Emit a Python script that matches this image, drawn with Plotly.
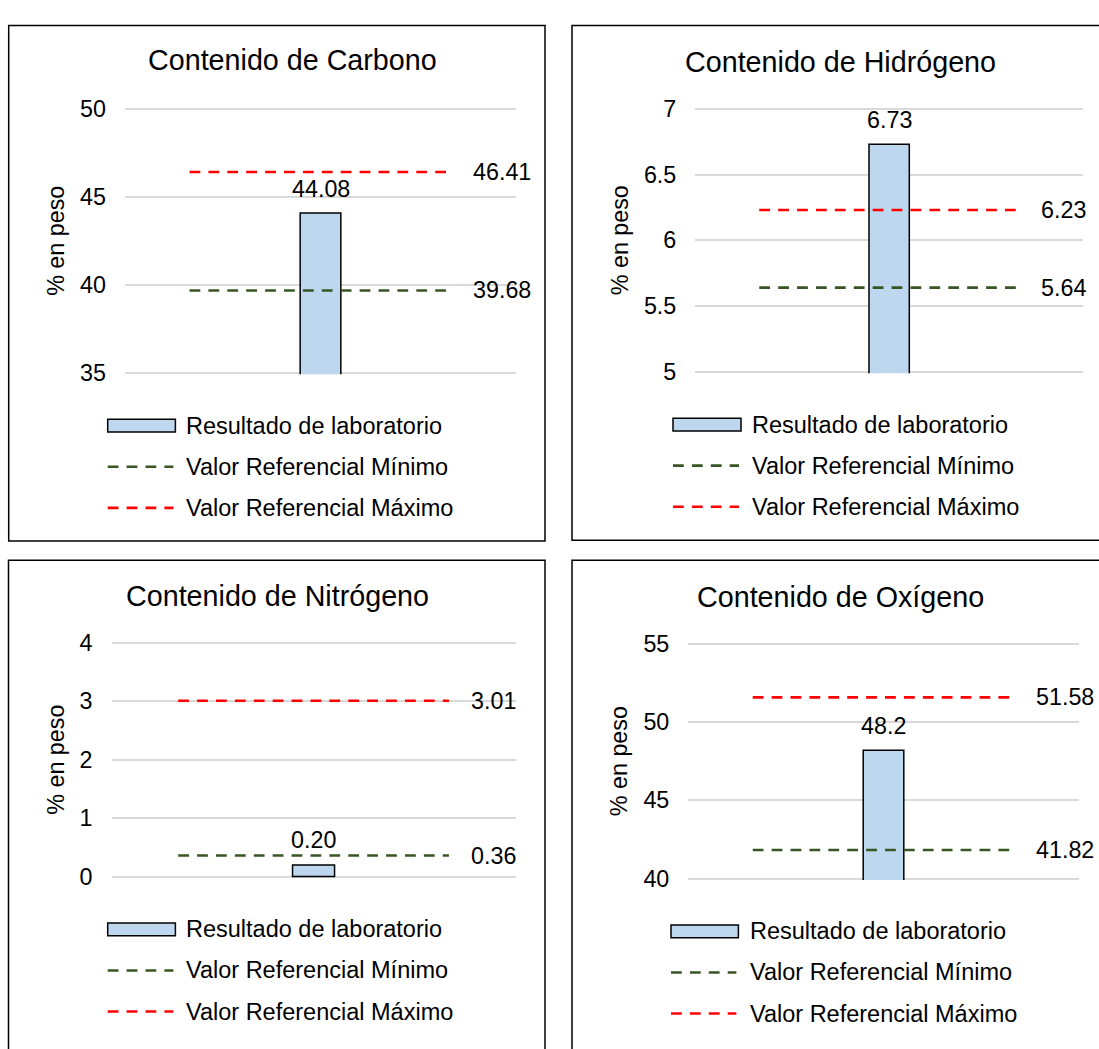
import plotly.graph_objects as go

W, H = 1099, 1049

# ---------------- data ----------------
titles = ["Contenido de Carbono", "Contenido de Hidrógeno",
          "Contenido de Nitrógeno", "Contenido de Oxígeno"]
lab_values = [44.08, 6.73, 0.20, 48.2]
lab_decimals = [2, 2, 2, 1]
ref_min = [39.68, 5.64, 0.36, 41.82]
ref_max = [46.41, 6.23, 3.01, 51.58]
y_min = [35, 5, 0, 40]
y_max = [50, 7, 4, 55]
y_step = [5, 0.5, 1, 5]
y_title = "% en peso"
series_names = ["Resultado de laboratorio", "Valor Referencial Mínimo",
                "Valor Referencial Máximo"]

# ---------------- styles / layout geometry (pixels) ----------------
FONT = "Arial, 'Liberation Sans', sans-serif"
BAR_FILL = "#BDD7EE"
GREEN = "#375623"
RED = "#FF0000"
GRID = "#D9D9D9"
DASH = "10.8px,8.1px"
LW = 2.6
FS = 23.3
FS_TITLE = 28.7

plot_px = [(125, 516, 100, 370), (695.3, 1083, 100, 368.8),
           (111.5, 515.6, 646, 885), (688.3, 1078.7, 647, 887)]
border_px = [(8.7, 14.7, 545, 542), (572, 14.7, 1115, 541),
             (8.5, 561.5, 545, 1065), (572, 561.5, 1115, 1065)]
title_px = [(292, 50), (840, 52.4), (277, 598.3), (840, 599.3)]
ytitle_x = [56, 620, 56, 619]
legend_px = [(107.7, 175.4, 184), (673, 741, 749.6),
             (107.7, 175.4, 184), (671, 738.4, 747.8)]
legend_row_dy = [54, 96, 138]
LINE_HALF = 0.335
BAR_W = 0.104
PAD = 1.5


def px(x):
    return x / W


def py(y):
    return 1 - y / H


fig = go.Figure()
shapes = []
annotations = []
layout = {}

for i in range(4):
    n = i + 1
    xa = "x" if n == 1 else f"x{n}"
    ya = "y" if n == 1 else f"y{n}"
    l, r, t, b = plot_px[i]
    u = (y_max[i] - y_min[i]) / (b - t)
    layout["xaxis" if n == 1 else f"xaxis{n}"] = dict(
        domain=[px(l), px(r)], range=[-0.5, 0.5], showgrid=False,
        zeroline=False, showticklabels=False, showline=False,
        anchor=ya, fixedrange=True)
    layout["yaxis" if n == 1 else f"yaxis{n}"] = dict(
        domain=[py(b + PAD), py(t - PAD)],
        range=[y_min[i] - PAD * u, y_max[i] + PAD * u],
        tick0=y_min[i], dtick=y_step[i], showgrid=True, gridcolor=GRID,
        gridwidth=1.5, zeroline=False, showline=False, ticks="",
        ticklabelstandoff=18, tickfont=dict(size=FS, color="black"),
        anchor=xa, fixedrange=True)

    fig.add_trace(go.Bar(
        x=[0], y=[lab_values[i]], width=BAR_W, xaxis=xa, yaxis=ya,
        marker=dict(color=BAR_FILL, line=dict(color="black", width=1.5)),
        name=series_names[0], showlegend=False))
    fig.add_trace(go.Scatter(
        x=[-LINE_HALF, LINE_HALF], y=[ref_min[i], ref_min[i]], mode="lines",
        xaxis=xa, yaxis=ya, line=dict(color=GREEN, width=LW, dash=DASH),
        name=series_names[1], showlegend=False))
    fig.add_trace(go.Scatter(
        x=[-LINE_HALF, LINE_HALF], y=[ref_max[i], ref_max[i]], mode="lines",
        xaxis=xa, yaxis=ya, line=dict(color=RED, width=LW, dash=DASH),
        name=series_names[2], showlegend=False))

    # data labels
    annotations.append(dict(
        x=0, y=lab_values[i], xref=xa, yref=ya, showarrow=False,
        text=f"{lab_values[i]:.{lab_decimals[i]}f}", yanchor="middle",
        yshift=24.5, font=dict(size=FS, color="black")))
    for v in (ref_min[i], ref_max[i]):
        annotations.append(dict(
            x=LINE_HALF, y=v, xref=xa, yref=ya, showarrow=False,
            text=f"{v:.2f}", xanchor="left", yanchor="middle", xshift=20,
            font=dict(size=FS, color="black")))

    # chart title
    annotations.append(dict(
        x=px(title_px[i][0]), y=py(title_px[i][1]), xref="paper", yref="paper",
        showarrow=False, text=titles[i], xanchor="center", yanchor="middle",
        font=dict(size=FS_TITLE, color="black")))
    # y axis title
    annotations.append(dict(
        x=px(ytitle_x[i]), y=py((t + b) / 2), xref="paper", yref="paper",
        showarrow=False, text=y_title, textangle=-90, xanchor="center",
        yanchor="middle", font=dict(size=FS, color="black")))

    # panel border
    bx0, by0, bx1, by1 = border_px[i]
    shapes.append(dict(type="rect", xref="paper", yref="paper",
                       x0=px(bx0), x1=px(bx1), y0=py(by0), y1=py(by1),
                       line=dict(color="black", width=1.5), layer="above"))

    # legend
    lx0, lx1, ltx = legend_px[i]
    rows = [b + d for d in legend_row_dy]
    shapes.append(dict(type="rect", xref="paper", yref="paper",
                       x0=px(lx0), x1=px(lx1), y0=py(rows[0] - 6.5),
                       y1=py(rows[0] + 6.5), fillcolor=BAR_FILL,
                       line=dict(color="black", width=1.5)))
    for rr, col in ((rows[1], GREEN), (rows[2], RED)):
        shapes.append(dict(type="line", xref="paper", yref="paper",
                           x0=px(lx0), x1=px(lx1 - 2), y0=py(rr), y1=py(rr),
                           line=dict(color=col, width=LW, dash=DASH)))
    for k, rr in enumerate(rows):
        annotations.append(dict(
            x=px(ltx), y=py(rr), xref="paper", yref="paper", showarrow=False,
            text=series_names[k], xanchor="left", yanchor="middle",
            font=dict(size=23.5, color="black")))

fig.update_layout(
    width=W, height=H, margin=dict(l=0, r=0, t=0, b=0, pad=0),
    paper_bgcolor="white", plot_bgcolor="white",
    font=dict(family=FONT, color="black"), showlegend=False,
    shapes=shapes, annotations=annotations, **layout)

fig.write_html(
    "out.html",
    config={"displayModeBar": False},
    post_script="document.body.style.margin='0';"
                "document.body.style.overflow='hidden';")
